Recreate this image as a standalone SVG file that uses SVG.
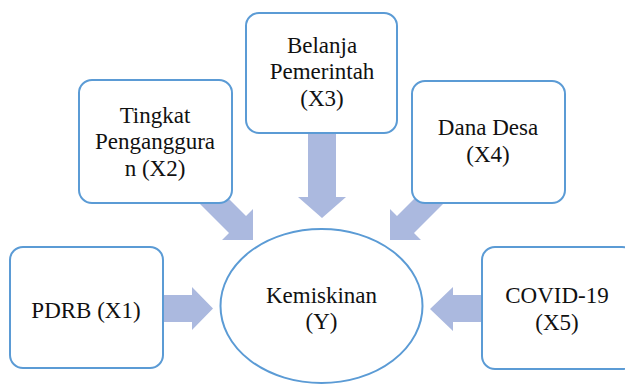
<svg xmlns="http://www.w3.org/2000/svg" width="625" height="387" viewBox="0 0 625 387">
<style>
.box{fill:#ffffff;stroke:#5b9bd5;stroke-width:2}
.arr{fill:#abb9df;stroke:none}
.t{font-size:23px;fill:#111111;text-anchor:middle}
</style>
<rect width="625" height="387" fill="#ffffff"/>
<g id="connectors">
<polygon class="arr" points="160,295 192,295 192,287 213,308.5 192,330 192,322 160,322"/>
<polygon class="arr" points="485,295 453,295 453,287 430,309 453,331 453,322 485,322"/>
<polygon class="arr" points="308,130 336,130 336,197 346,197 322,218 298,197 308,197"/>
<polygon class="arr" points="213.5,183.5 246,216 253,209 253,240 222,240 229,233 196.5,200.5"/>
<polygon class="arr" points="429.5,183.5 397,216 390,209 390,240 421,240 414,233 446.5,200.5"/>
</g>
<g font-family="Liberation Serif, DejaVu Serif, serif">
<g id="x1">
<rect class="box" x="10" y="247" width="153" height="121" rx="13"/>
<text class="t" x="86" y="318">PDRB (X1)</text>
</g>
<g id="x2">
<rect class="box" x="79" y="80" width="153" height="123" rx="13"/>
<text class="t" x="155" y="123">Tingkat</text>
<text class="t" x="155" y="149">Penganggura</text>
<text class="t" x="155" y="176">n (X2)</text>
</g>
<g id="x3">
<rect class="box" x="246" y="13" width="151" height="120" rx="13"/>
<text class="t" x="322" y="53">Belanja</text>
<text class="t" x="322" y="79">Pemerintah</text>
<text class="t" x="322" y="106">(X3)</text>
</g>
<g id="x4">
<rect class="box" x="412" y="81" width="153" height="122" rx="13"/>
<text class="t" x="488" y="135">Dana Desa</text>
<text class="t" x="488" y="162">(X4)</text>
</g>
<g id="x5">
<rect class="box" x="482" y="247" width="153" height="122" rx="13"/>
<text class="t" x="557" y="303">COVID-19</text>
<text class="t" x="557" y="330">(X5)</text>
</g>
<g id="y">
<ellipse class="box" cx="321.5" cy="306" rx="101" ry="77"/>
<text class="t" x="321.5" y="303">Kemiskinan</text>
<text class="t" x="321.5" y="329">(Y)</text>
</g>
</g>
</svg>
